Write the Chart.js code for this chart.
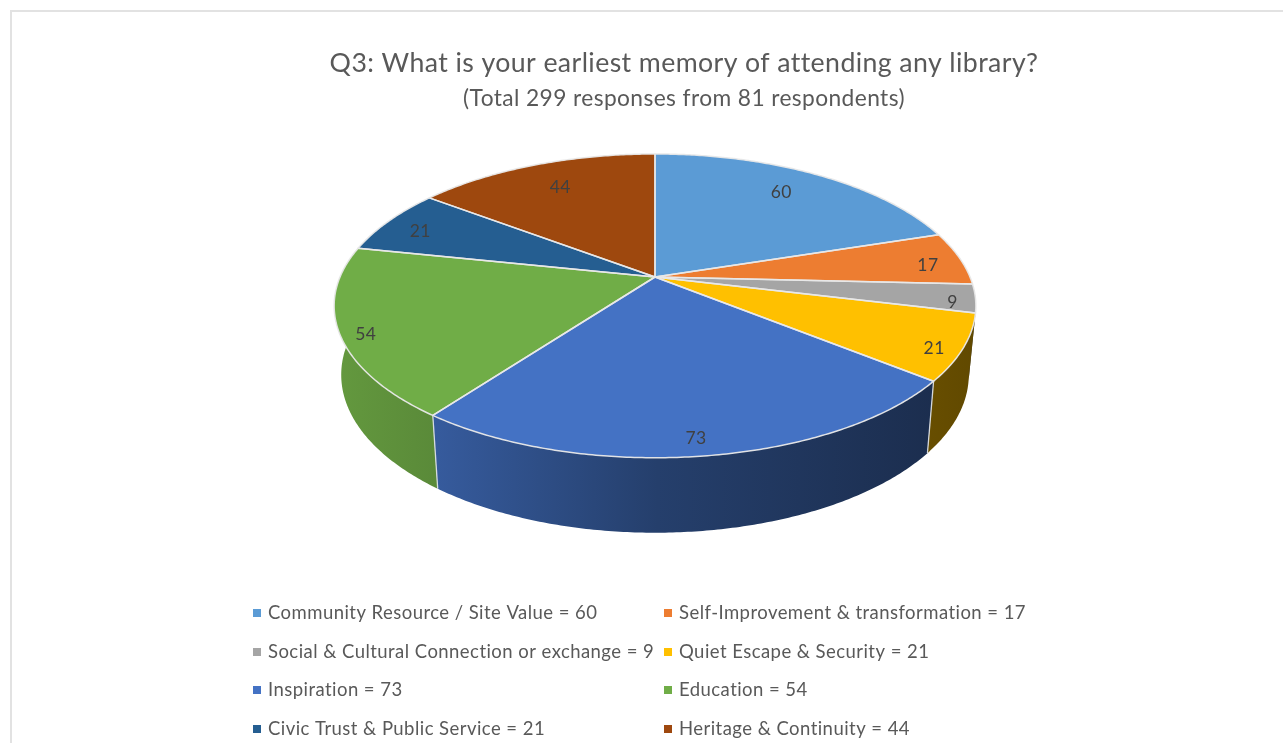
<!DOCTYPE html>
<html>
<head>
<meta charset="utf-8">
<style>
html,body{margin:0;padding:0;background:#fff;overflow:hidden}
#wrap{position:relative;width:1283px;height:743px}
canvas{display:block}
</style>
<script src="https://cdn.jsdelivr.net/npm/chart.js@4"></script>
</head>
<body>
<div id="wrap"><canvas id="c" width="1283" height="743"></canvas></div>
<script>
const categories = ["Community Resource / Site Value","Self-Improvement & transformation","Social & Cultural Connection or exchange","Quiet Escape & Security","Inspiration","Education","Civic Trust & Public Service","Heritage & Continuity"];
const responses = [60,17,9,21,73,54,21,44];
const sliceColors = ["#5B9BD5","#ED7D31","#A5A5A5","#FFC000","#4472C4","#70AD47","#255E91","#9E480E"];
const titleText = "Q3: What is your earliest memory of attending any library?";
const subtitleText = "(Total 299 responses from 81 respondents)";

/* tilted-disc look: library arc angles are projected onto this perspective plane */
const VIEW = {cx:655, cy:277, R:315, S:146.4, p:0.19, depthScaleX:0.978, frontY:458, frontY2:533, depthScaleY:1.04};
const labelRadial = [0.80,0.88,0.93,0.90,0.90,0.93,0.87,0.78];
const labelNudge = [[-6,-3],[4,2],[0,3],[4,5],[-2,1],[3,3],[-1,1],[2,-2]];
const FONT = "Lato, 'Open Sans', sans-serif";
const TEXT = "#595959";

function top3d(u,v){const w=1-VIEW.p*v;return [VIEW.cx+VIEW.R*u/w, VIEW.cy+VIEW.S*v/w];}
function low3d(u,v){const t=top3d(u,v);return [VIEW.cx+(t[0]-VIEW.cx)*VIEW.depthScaleX, VIEW.frontY2+(t[1]-VIEW.frontY)*VIEW.depthScaleY];}
function rimPts(a0,a1,fn){const n=Math.max(4,Math.ceil((a1-a0)/0.01)),o=[];for(let i=0;i<=n;i++){const a=a0+(a1-a0)*i/n;o.push(fn(Math.cos(a),Math.sin(a)));}return o;}
function shade(hex,f){const n=parseInt(hex.slice(1),16);return `rgb(${Math.round((n>>16&255)*f)},${Math.round((n>>8&255)*f)},${Math.round((n&255)*f)})`;}

const pie3d = {
  id:'pie3d',
  beforeDatasetDraw(chart,args){
    const ctx=chart.ctx, arcs=args.meta.data;
    const bg=chart.data.datasets[0].backgroundColor;
    const order=arcs.map((el,i)=>({el,i,v:Math.sin((el.startAngle+el.endAngle)/2)})).sort((a,b)=>a.v-b.v);
    ctx.save();
    ctx.lineJoin='round';
    for(const {el,i,v} of order){
      if(v<-0.05) continue;
      const t=rimPts(el.startAngle,el.endAngle,top3d), b=rimPts(el.startAngle,el.endAngle,low3d);
      const g=ctx.createLinearGradient(340,0,975,0);
      [[0,.88],[.15,.8],[.5,.55],[1,.38]].forEach(s=>g.addColorStop(s[0],shade(bg[i],s[1])));
      ctx.beginPath();
      t.forEach((p,k)=>k?ctx.lineTo(p[0],p[1]):ctx.moveTo(p[0],p[1]));
      b.reverse().forEach(p=>ctx.lineTo(p[0],p[1]));
      ctx.closePath();
      ctx.fillStyle=g;ctx.fill();
    }
    /* separators between the visible walls */
    ctx.strokeStyle='rgba(225,228,232,0.9)';ctx.lineWidth=1.3;
    for(const el of arcs){
      const a=el.startAngle,u=Math.cos(a),v=Math.sin(a);
      if(v>0.55){const p=top3d(u,v),q=low3d(u,v);ctx.beginPath();ctx.moveTo(p[0],p[1]);ctx.lineTo(q[0],q[1]);ctx.stroke();}
    }
    /* top faces */
    arcs.forEach((el,i)=>{
      const c=top3d(0,0),t=rimPts(el.startAngle,el.endAngle,top3d);
      ctx.beginPath();ctx.moveTo(c[0],c[1]);t.forEach(p=>ctx.lineTo(p[0],p[1]));ctx.closePath();
      ctx.fillStyle=bg[i];ctx.fill();
    });
    ctx.strokeStyle='rgba(232,232,232,0.95)';ctx.lineWidth=1.5;
    for(const el of arcs){
      const c=top3d(0,0),t=rimPts(el.startAngle,el.endAngle,top3d);
      ctx.beginPath();ctx.moveTo(c[0],c[1]);t.forEach(p=>ctx.lineTo(p[0],p[1]));ctx.closePath();ctx.stroke();
    }
    ctx.restore();
    return false;
  },
  afterDatasetsDraw(chart){
    const ctx=chart.ctx, arcs=chart.getDatasetMeta(0).data, vals=chart.data.datasets[0].data;
    ctx.save();
    ctx.font="17.5px "+FONT;ctx.letterSpacing='0.4px';ctx.fillStyle="#404040";ctx.textAlign='center';ctx.textBaseline='middle';
    arcs.forEach((el,i)=>{
      const a=(el.startAngle+el.endAngle)/2,r=labelRadial[i];
      const p=top3d(Math.cos(a)*r,Math.sin(a)*r);
      ctx.fillText(String(vals[i]),p[0]+labelNudge[i][0],p[1]+3+labelNudge[i][1]);
    });
    ctx.restore();
  }
};

const legend2col = {
  id:'legend2col',
  afterDraw(chart){
    const ctx=chart.ctx;
    const cols=[253,664],rows=[613,652,690,729];
    ctx.save();
    ctx.font="18.5px "+FONT;ctx.letterSpacing='0.45px';ctx.textBaseline='middle';ctx.textAlign='left';
    categories.forEach((name,i)=>{
      const x=cols[i%2],y=rows[Math.floor(i/2)];
      ctx.fillStyle=sliceColors[i];ctx.fillRect(x,y-4,8,8);
      ctx.fillStyle=TEXT;ctx.fillText(name+" = "+responses[i],x+15,y);
    });
    ctx.restore();
  }
};

const frame = {
  id:'frame',
  beforeDraw(chart){
    const ctx=chart.ctx;
    ctx.save();ctx.fillStyle='#fff';ctx.fillRect(0,0,1283,743);
    ctx.fillStyle='#e2e2e2';ctx.fillRect(10,10,1273,2);ctx.fillRect(10,10,2,733);
    ctx.restore();
    ctx.letterSpacing='0.4px'; /* applies to the title and subtitle */
  }
};

new Chart(document.getElementById('c'),{
  type:'pie',
  data:{labels:categories,datasets:[{data:responses,backgroundColor:sliceColors,borderWidth:0}]},
  plugins:[frame,pie3d,legend2col],
  options:{
    responsive:false,animation:false,
    layout:{padding:{left:85,top:47,right:0,bottom:0}},
    plugins:{
      legend:{display:false},
      tooltip:{enabled:false},
      title:{display:true,text:titleText,color:TEXT,font:{family:FONT,size:26.7,weight:'normal'},padding:{top:0,bottom:6}},
      subtitle:{display:true,text:subtitleText,color:TEXT,font:{family:FONT,size:22.75,weight:'normal'},padding:{top:0,bottom:10}}
    }
  }
});
</script>
</body>
</html>
